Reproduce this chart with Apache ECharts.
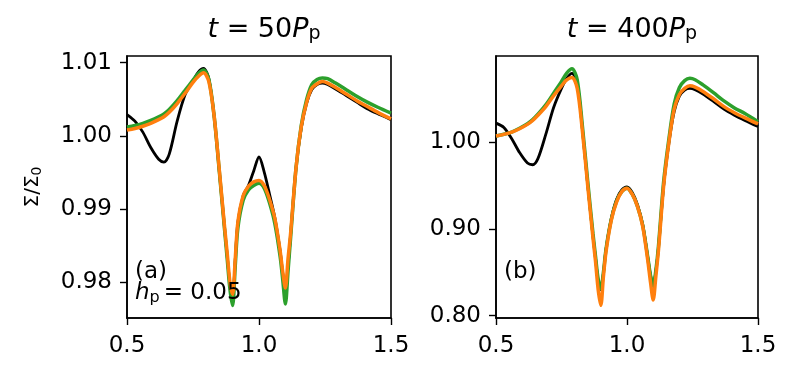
<!DOCTYPE html>
<html><head><meta charset="utf-8">
<script src="https://cdn.jsdelivr.net/npm/echarts@6/dist/echarts.min.js"></script>
<style>html,body{margin:0;padding:0;background:#fff}#c{width:797px;height:380px}</style>
</head><body><div id="c"></div>
<script>
const xs = [0.50,0.53,0.56,0.59,0.62,0.64,0.66,0.69,0.72,0.75,0.77,0.79,0.81,0.83,0.85,0.87,0.88,0.89,0.90,0.91,0.92,0.94,0.96,0.98,1.00,1.02,1.04,1.06,1.08,1.09,1.10,1.11,1.12,1.14,1.16,1.18,1.20,1.22,1.24,1.26,1.29,1.33,1.37,1.41,1.45,1.50];

// panel (a): t = 50 P_p
const aBlack  = [1.0029,1.0020,1.0005,0.9984,0.9968,0.9964,0.9975,1.0020,1.0056,1.0075,1.0087,1.0092,1.0078,1.0027,0.9950,0.9872,0.9834,0.9796,0.9776,0.9830,0.9882,0.9918,0.9932,0.9952,0.9971,0.9950,0.9920,0.9888,0.9843,0.9812,0.9790,0.9822,0.9866,0.9955,1.0010,1.0044,1.0063,1.0070,1.0072,1.0070,1.0064,1.0055,1.0046,1.0037,1.0030,1.0022];
const aGreen  = [1.0012,1.0014,1.0017,1.0021,1.0026,1.0030,1.0036,1.0048,1.0062,1.0076,1.0085,1.0090,1.0077,1.0027,0.9950,0.9870,0.9830,0.9790,0.9768,0.9822,0.9874,0.9912,0.9926,0.9932,0.9935,0.9928,0.9908,0.9880,0.9835,0.9803,0.9770,0.9815,0.9862,0.9955,1.0014,1.0049,1.0070,1.0077,1.0079,1.0078,1.0072,1.0063,1.0054,1.0046,1.0039,1.0031];
const aOrange = [1.0008,1.0010,1.0013,1.0017,1.0022,1.0026,1.0032,1.0044,1.0058,1.0073,1.0081,1.0086,1.0074,1.0027,0.9952,0.9874,0.9838,0.9800,0.9783,0.9832,0.9882,0.9918,0.9931,0.9937,0.9939,0.9932,0.9913,0.9887,0.9843,0.9814,0.9792,0.9832,0.9868,0.9955,1.0012,1.0045,1.0065,1.0071,1.0074,1.0072,1.0066,1.0057,1.0048,1.0040,1.0032,1.0023];

// panel (b): t = 400 P_p
const bBlack  = [1.0220,1.0170,1.0040,0.9880,0.9760,0.9740,0.9810,1.0090,1.0400,1.0620,1.0735,1.0793,1.0680,1.0140,0.9510,0.8920,0.8660,0.8400,0.8300,0.8490,0.8770,0.9120,0.9340,0.9450,0.9485,0.9420,0.9280,0.9050,0.8660,0.8460,0.8340,0.8510,0.8780,0.9500,0.9990,1.0350,1.0530,1.0600,1.0620,1.0605,1.0555,1.0470,1.0380,1.0310,1.0250,1.0180];
const bGreen  = [1.0072,1.0091,1.0117,1.0160,1.0212,1.0260,1.0322,1.0430,1.0565,1.0700,1.0795,1.0845,1.0720,1.0180,0.9550,0.8950,0.8680,0.8420,0.8310,0.8500,0.8770,0.9110,0.9320,0.9430,0.9470,0.9400,0.9260,0.9040,0.8660,0.8460,0.8340,0.8520,0.8800,0.9550,1.0040,1.0440,1.0630,1.0710,1.0736,1.0720,1.0660,1.0570,1.0475,1.0395,1.0330,1.0237];
const bOrange = [1.0072,1.0090,1.0115,1.0155,1.0205,1.0250,1.0310,1.0410,1.0535,1.0650,1.0718,1.0745,1.0620,1.0120,0.9500,0.8900,0.8620,0.8300,0.8120,0.8450,0.8740,0.9100,0.9310,0.9430,0.9470,0.9400,0.9260,0.9030,0.8620,0.8380,0.8180,0.8450,0.8750,0.9500,1.0000,1.0380,1.0550,1.0620,1.0650,1.0635,1.0585,1.0500,1.0410,1.0340,1.0280,1.0210];

const xTicks = [0.5, 1.0, 1.5];
const aTicks = [0.98, 0.99, 1.00, 1.01];
const bTicks = [0.80, 0.90, 1.00];
const panelTimes = ['50', '400'];
const panelTags = ['(a)', '(b)'];
const hpValue = '0.05';

const FONT = 'DejaVu Sans';
const chart = echarts.init(document.getElementById('c'), null, {renderer: 'canvas'});
const pair = ys => xs.map((x, i) => [x, ys[i]]);

const grids = [
  {left: 127, top: 56, width: 264, height: 262},
  {left: 496, top: 56, width: 262, height: 262}
];
const yRanges = [[0.9751, 1.0109], [0.7974, 1.0993]];
const yTickSets = [aTicks, bTicks];

function xAxis(i) {
  return {
    type: 'value', gridIndex: i, min: 0.5, max: 1.5, interval: 0.5,
    axisLine: {show: true, onZero: false, lineStyle: {color: '#000', width: 1.6}},
    axisTick: {show: true, inside: false, length: 7, lineStyle: {color: '#000', width: 1.4}, customValues: xTicks},
    axisLabel: {show: true, margin: 17, color: '#000', fontSize: 23, fontFamily: FONT, customValues: xTicks,
      formatter: v => v.toFixed(1)},
    splitLine: {show: false}
  };
}
function yAxis(i) {
  return {
    type: 'value', gridIndex: i, min: yRanges[i][0], max: yRanges[i][1],
    axisLine: {show: true, onZero: false, lineStyle: {color: '#000', width: 1.6}},
    axisTick: {show: true, inside: false, length: 7, lineStyle: {color: '#000', width: 1.4}, customValues: yTickSets[i]},
    axisLabel: {show: true, margin: 15, color: '#000', fontSize: 23, fontFamily: FONT, customValues: yTickSets[i],
      formatter: v => v.toFixed(2)},
    splitLine: {show: false}
  };
}
function line(i, ys, color, w, z) {
  return {type: 'line', xAxisIndex: i, yAxisIndex: i, data: pair(ys), showSymbol: false, smooth: 0.3,
    lineStyle: {color: color, width: w}, itemStyle: {color: color}, z: z, animation: false};
}
const titleRich = {
  i: {fontSize: 27, fontFamily: FONT, fontStyle: 'italic', fontWeight: 'normal', color: '#000'},
  n: {fontSize: 27, fontFamily: FONT, fontWeight: 'normal', color: '#000'},
  s: {fontSize: 19, fontFamily: FONT, fontWeight: 'normal', color: '#000', verticalAlign: 'bottom', padding: [9, 0, 0, 0]}
};
const titles = panelTimes.map((t, i) => ({
  text: '{i|t}{n| = ' + t + '}{i|P}{s|p}',
  left: grids[i].left + grids[i].width / 2, top: 11, textAlign: 'center',
  textStyle: {fontWeight: 'normal', rich: titleRich}
}));

chart.setOption({
  animation: false,
  backgroundColor: '#fff',
  title: titles,
  grid: grids.map(g => Object.assign({show: true, borderColor: '#000', borderWidth: 1.6, backgroundColor: 'transparent'}, g)),
  xAxis: [xAxis(0), xAxis(1)],
  yAxis: [yAxis(0), yAxis(1)],
  series: [
    line(0, aBlack, '#000000', 2.8, 2), line(0, aGreen, '#2ca02c', 3.5, 3), line(0, aOrange, '#ff7f0e', 3.5, 4),
    line(1, bBlack, '#000000', 2.8, 2), line(1, bGreen, '#2ca02c', 3.5, 3), line(1, bOrange, '#ff7f0e', 3.5, 4)
  ],
  graphic: [
    {type: 'text', x: 33, y: 187, rotation: Math.PI / 2, z: 10, style: {
      text: '{m|Σ/Σ}{s|0}', align: 'center', verticalAlign: 'middle', fill: '#000',
      rich: {
        m: {fontSize: 20, fontFamily: FONT, fill: '#000'},
        s: {fontSize: 14, fontFamily: FONT, fill: '#000', verticalAlign: 'bottom', padding: [8, 0, 0, 0]}
      }}},
    {type: 'text', left: 135, top: 261, z: 10, style: {text: panelTags[0], font: '23px "DejaVu Sans"', fill: '#000'}},
    {type: 'text', left: 135, top: 282, z: 10, style: {
      text: '{i|h}{s|p}{n|= ' + hpValue + '}', fill: '#000',
      rich: {
        i: {fontSize: 23, fontFamily: FONT, fontStyle: 'italic', fill: '#000'},
        n: {fontSize: 23, fontFamily: FONT, fill: '#000', padding: [0, 0, 0, 4]},
        s: {fontSize: 16, fontFamily: FONT, fill: '#000', verticalAlign: 'bottom', padding: [9, 0, 0, 0]}
      }}},
    {type: 'text', left: 504, top: 261, z: 10, style: {text: panelTags[1], font: '23px "DejaVu Sans"', fill: '#000'}}
  ]
});
</script></body></html>
